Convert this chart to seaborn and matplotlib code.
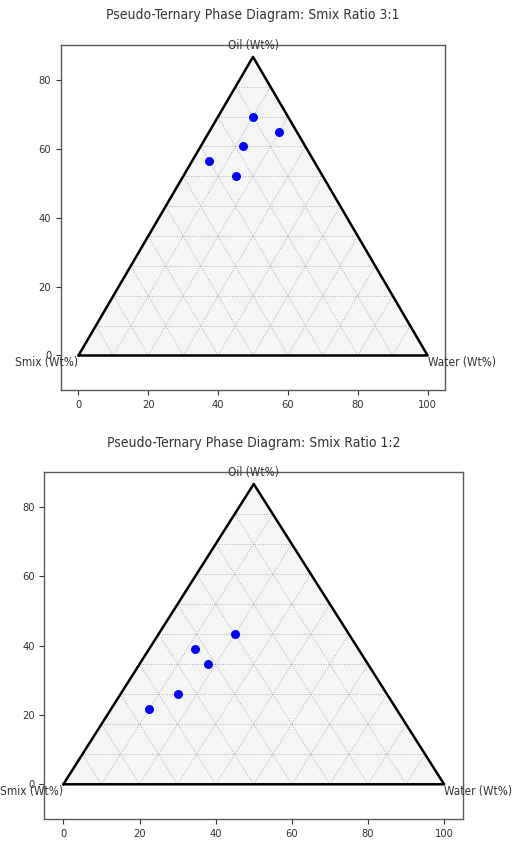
import numpy as np
import pandas as pd
import matplotlib
matplotlib.use("Agg")
import matplotlib.pyplot as plt
import seaborn as sns

# ---- data (ternary compositions, wt%) ----
titles = ["Pseudo-Ternary Phase Diagram: Smix Ratio 3:1",
          "Pseudo-Ternary Phase Diagram: Smix Ratio 1:2"]

oil_31 = [80, 75, 70, 65, 60]
water_31 = [10, 20, 12, 5, 15]
smix_31 = [10, 5, 18, 30, 25]

oil_12 = [50, 45, 40, 30, 25]
water_12 = [20, 12, 18, 15, 10]
smix_12 = [30, 43, 42, 55, 65]

xticks = [0, 20, 40, 60, 80, 100]
yticks = [0, 20, 40, 60, 80]

label_oil = "Oil (Wt%)"
label_smix = "Smix (Wt%)"
label_water = "Water (Wt%)"

sns.set_style("ticks")
plt.rcParams["font.family"] = ["DejaVu Sans"]
plt.rcParams["font.stretch"] = "condensed"
plt.rcParams["text.color"] = "#333333"
plt.rcParams["xtick.color"] = "#333333"
plt.rcParams["ytick.color"] = "#333333"
plt.rcParams["xtick.major.size"] = 3.5
plt.rcParams["ytick.major.size"] = 3.5
plt.rcParams["xtick.major.width"] = 0.8
plt.rcParams["ytick.major.width"] = 0.8

H = np.sqrt(3) / 2


def to_xy(oil, water):
    oil = np.asarray(oil, dtype=float)
    water = np.asarray(water, dtype=float)
    return water + oil / 2.0, oil * H


def draw(ax, oil, water, smix, title):
    # triangle fill and outline
    tri_x = [0, 100, 50, 0]
    tri_y = [0, 0, 100 * H, 0]
    ax.fill(tri_x, tri_y, color="#f5f5f5", zorder=0)
    # grid lines
    gkw = dict(color="gray", linestyle=":", linewidth=0.7, alpha=0.6, zorder=1)
    for v in range(10, 100, 10):
        # constant oil
        ax.plot([v / 2, 100 - v / 2], [v * H, v * H], **gkw)
        # constant water
        ax.plot([v, v + (100 - v) / 2], [0, (100 - v) * H], **gkw)
        # constant smix
        ax.plot([100 - v, (100 - v) / 2], [0, (100 - v) * H], **gkw)
    ax.plot(tri_x, tri_y, color="black", linewidth=1.8, zorder=2)

    x, y = to_xy(oil, water)
    df = pd.DataFrame({"x": x, "y": y, "smix": smix})
    sns.scatterplot(data=df, x="x", y="y", color="blue", s=42,
                    linewidth=0, ax=ax, zorder=3)

    ax.text(50, 90, label_oil, ha="center", va="center", fontsize=8.5)
    ax.text(0, -2, label_smix, ha="right", va="center", fontsize=8.5)
    ax.text(100, -2, label_water, ha="left", va="center", fontsize=8.5)

    ax.set_xlim(-5, 105)
    ax.set_ylim(-10, 90)
    ax.set_xticks(xticks)
    ax.set_yticks(yticks)
    ax.tick_params(labelsize=8)
    ax.set_xlabel("")
    ax.set_ylabel("")
    for s in ax.spines.values():
        s.set_visible(True)
        s.set_color("0.35")
        s.set_linewidth(1.0)
    ax.set_title(title, fontsize=10, pad=18.5)


fig = plt.figure(figsize=(5.19, 8.41), dpi=100)
ax1 = fig.add_axes([0.1175, 0.5363, 0.740, 0.410])
ax2 = fig.add_axes([0.0854, 0.0262, 0.807, 0.4123])

draw(ax1, oil_31, water_31, smix_31, titles[0])
draw(ax2, oil_12, water_12, smix_12, titles[1])

fig.savefig("out.png", dpi=100)
